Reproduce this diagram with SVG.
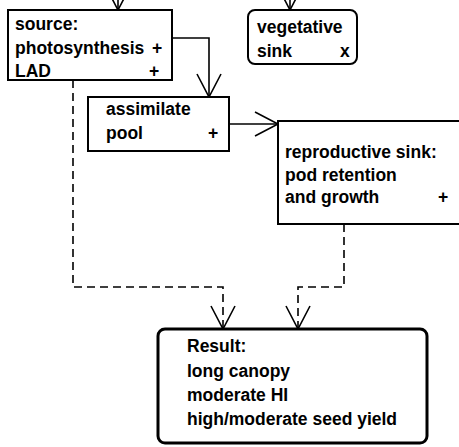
<svg xmlns="http://www.w3.org/2000/svg" width="459" height="447" viewBox="0 0 459 447">
<style>
.box{fill:#fff;stroke:#000;stroke-width:2}
.res{fill:#fff;stroke:#000;stroke-width:3}
.t{font-family:"Liberation Sans",Arial,Helvetica,sans-serif;font-size:17.5px;font-weight:bold;fill:#000}
.c{fill:none;stroke:#000;stroke-width:1.6}
.d{fill:none;stroke:#000;stroke-width:1.6;stroke-dasharray:8 5}
</style>
<defs>
<marker id="v" markerUnits="userSpaceOnUse" markerWidth="30" markerHeight="30" refX="23" refY="12" orient="auto" overflow="visible">
<path d="M0,0 L23,12 L0,24" fill="none" stroke="#000" stroke-width="1.6"/>
</marker>
</defs>
<rect width="459" height="447" fill="#fff"/>
<g id="connectors">
<path class="c" d="M118,-30 L118,10" marker-end="url(#v)"/>
<path class="c" d="M290,-30 L290,10" marker-end="url(#v)"/>
<path class="c" d="M172,38 L209,38 L209,97" marker-end="url(#v)"/>
<path class="c" d="M229,124 L278,124" marker-end="url(#v)"/>
<path class="d" d="M73,80 L73,287 L223,287 L223,329" marker-end="url(#v)"/>
<path class="d" d="M344,224 L344,287 L298,287 L298,329" marker-end="url(#v)"/>
</g>
<g id="source">
<rect class="box" x="8" y="10" width="164" height="70"/>
<text class="t" x="15" y="30">source:</text>
<text class="t" x="15" y="54">photosynthesis</text>
<text class="t" x="152" y="54">+</text>
<text class="t" x="15" y="77">LAD</text>
<text class="t" x="149" y="77">+</text>
</g>
<g id="vegetative">
<rect class="box" x="248" y="10" width="109" height="54" rx="7"/>
<text class="t" x="257" y="33">vegetative</text>
<text class="t" x="257" y="57">sink</text>
<text class="t" x="340" y="57">x</text>
</g>
<g id="assimilate">
<rect class="box" x="88" y="97" width="141" height="54"/>
<text class="t" x="106" y="115">assimilate</text>
<text class="t" x="106" y="139">pool</text>
<text class="t" x="208" y="139">+</text>
</g>
<g id="reproductive">
<rect class="box" x="278" y="121" width="186" height="103"/>
<text class="t" x="285" y="158">reproductive sink:</text>
<text class="t" x="285" y="181">pod retention</text>
<text class="t" x="285" y="203">and growth</text>
<text class="t" x="438" y="203">+</text>
</g>
<g id="result">
<rect class="res" x="158" y="329" width="269" height="114" rx="7"/>
<text class="t" x="187" y="352">Result:</text>
<text class="t" x="187" y="377">long canopy</text>
<text class="t" x="187" y="401">moderate HI</text>
<text class="t" x="187" y="425">high/moderate seed yield</text>
</g>
</svg>
